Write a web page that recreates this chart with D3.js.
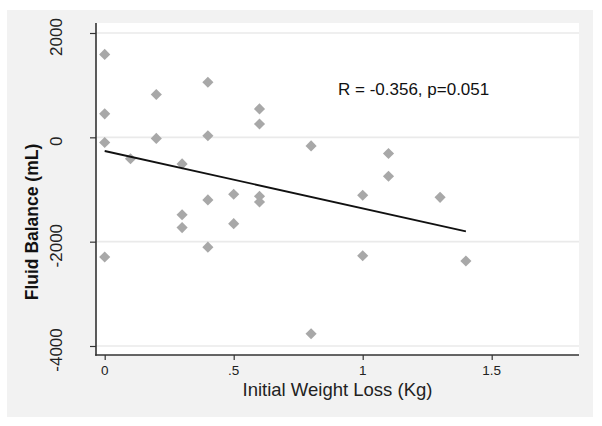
<!DOCTYPE html>
<html>
<head>
<meta charset="utf-8">
<script src="https://cdn.jsdelivr.net/npm/d3@7"></script>
<style>
  html, body { margin: 0; padding: 0; background: #ffffff; }
  svg { display: block; }
</style>
</head>
<body>
<svg id="chart" width="602" height="426"></svg>
<script>
// ---- data ----
const weightLoss = [0, 0, 0, 0, 0.1, 0.2, 0.2, 0.3, 0.3, 0.3, 0.4, 0.4, 0.4, 0.4,
                    0.5, 0.5, 0.6, 0.6, 0.6, 0.6, 0.8, 0.8, 1.0, 1.0, 1.1, 1.1, 1.3, 1.4];
const fluidBalance = [1590, 450, -100, -2295, -410, 820, -20, -510, -1485, -1730, 1055, 30, -1200, -2105,
                      -1090, -1655, 545, 255, -1130, -1240, -165, -3765, -1110, -2270, -310, -745, -1150, -2370];
const fitX = [0, 1.4];
const fitY = [-262, -1802];
const xTicks = [0, 0.5, 1, 1.5];
const xTickLabels = ["0", ".5", "1", "1.5"];
const yTicks = [2000, 0, -2000, -4000];
const yTickLabels = ["2000", "0", "-2000", "-4000"];
const xTitle = "Initial Weight Loss (Kg)";
const yTitle = "Fluid Balance (mL)";
const annotation = "R = -0.356, p=0.051";

// ---- layout ----
const svg = d3.select("#chart");
const plot = { left: 96, right: 579, top: 23, bottom: 355 };

svg.append("rect").attr("x", 7).attr("y", 10).attr("width", 586).attr("height", 407)
  .attr("fill", "#f2f2f2");
svg.append("rect").attr("x", plot.left).attr("y", plot.top)
  .attr("width", plot.right - plot.left).attr("height", plot.bottom - plot.top)
  .attr("fill", "#ffffff");

const x = d3.scaleLinear().domain([-0.0337, 1.8384]).range([plot.left, plot.right]);
const y = d3.scaleLinear().domain([2191.7, -4172.5]).range([plot.top, plot.bottom]);

// gridlines
svg.append("g").selectAll("line").data(yTicks).join("line")
  .attr("x1", plot.left).attr("x2", plot.right)
  .attr("y1", d => y(d)).attr("y2", d => y(d))
  .attr("stroke", "#eaeaea").attr("stroke-width", 1.6);

// axes
const yAxis = d3.axisLeft(y).tickValues(yTicks).tickSize(6).tickFormat(() => "");
const gy = svg.append("g").attr("transform", `translate(${plot.left},0)`).call(yAxis);
gy.select(".domain").remove();
gy.selectAll(".tick line").attr("stroke", "#333").attr("stroke-width", 1.2);

const xAxis = d3.axisBottom(x).tickValues(xTicks).tickSize(5).tickFormat(() => "");
const gx = svg.append("g").attr("transform", `translate(0,${plot.bottom})`).call(xAxis);
gx.select(".domain").remove();
gx.selectAll(".tick line").attr("stroke", "#333").attr("stroke-width", 1.2);

svg.append("line").attr("x1", plot.left).attr("x2", plot.left)
  .attr("y1", plot.top).attr("y2", plot.bottom + 0.8)
  .attr("stroke", "#333").attr("stroke-width", 1.6);
svg.append("line").attr("x1", plot.left - 0.8).attr("x2", plot.right)
  .attr("y1", plot.bottom).attr("y2", plot.bottom)
  .attr("stroke", "#333").attr("stroke-width", 1.6);

// y tick labels (rotated)
svg.append("g").selectAll("text").data(yTicks).join("text")
  .attr("transform", d => `translate(62,${y(d) + 4}) rotate(-90)`)
  .attr("text-anchor", "middle")
  .attr("font-family", "Liberation Sans, Arial, sans-serif")
  .attr("font-size", 17).attr("fill", "#222")
  .text((d, i) => yTickLabels[i]);

// x tick labels
svg.append("g").selectAll("text").data(xTicks).join("text")
  .attr("x", d => x(d)).attr("y", 375)
  .attr("text-anchor", "middle")
  .attr("font-family", "Liberation Sans, Arial, sans-serif")
  .attr("font-size", 13.5).attr("fill", "#222")
  .text((d, i) => xTickLabels[i]);

// titles
svg.append("text").attr("x", (plot.left + plot.right) / 2).attr("y", 396)
  .attr("text-anchor", "middle")
  .attr("font-family", "Liberation Sans, Arial, sans-serif")
  .attr("font-size", 18.5).attr("fill", "#222")
  .text(xTitle);

svg.append("text").attr("transform", "translate(38,222) rotate(-90)")
  .attr("text-anchor", "middle")
  .attr("font-family", "Liberation Sans, Arial, sans-serif")
  .attr("font-weight", "bold")
  .attr("font-size", 17.5).attr("fill", "#111")
  .text(yTitle);

// points
const sym = d3.symbol().type(d3.symbolSquare).size(62);
svg.append("g").selectAll("path").data(weightLoss.map((w, i) => [w, fluidBalance[i]])).join("path")
  .attr("d", sym)
  .attr("transform", d => `translate(${x(d[0])},${y(d[1])}) rotate(45)`)
  .attr("fill", "#a8a8a8");

// fit line
svg.append("path")
  .datum(fitX.map((v, i) => [v, fitY[i]]))
  .attr("d", d3.line().x(d => x(d[0])).y(d => y(d[1])))
  .attr("fill", "none").attr("stroke", "#111").attr("stroke-width", 1.8);

// annotation
svg.append("text").attr("x", 338).attr("y", 95)
  .attr("font-family", "Liberation Sans, Arial, sans-serif")
  .attr("font-size", 17).attr("fill", "#111")
  .text(annotation);
</script>
</body>
</html>
